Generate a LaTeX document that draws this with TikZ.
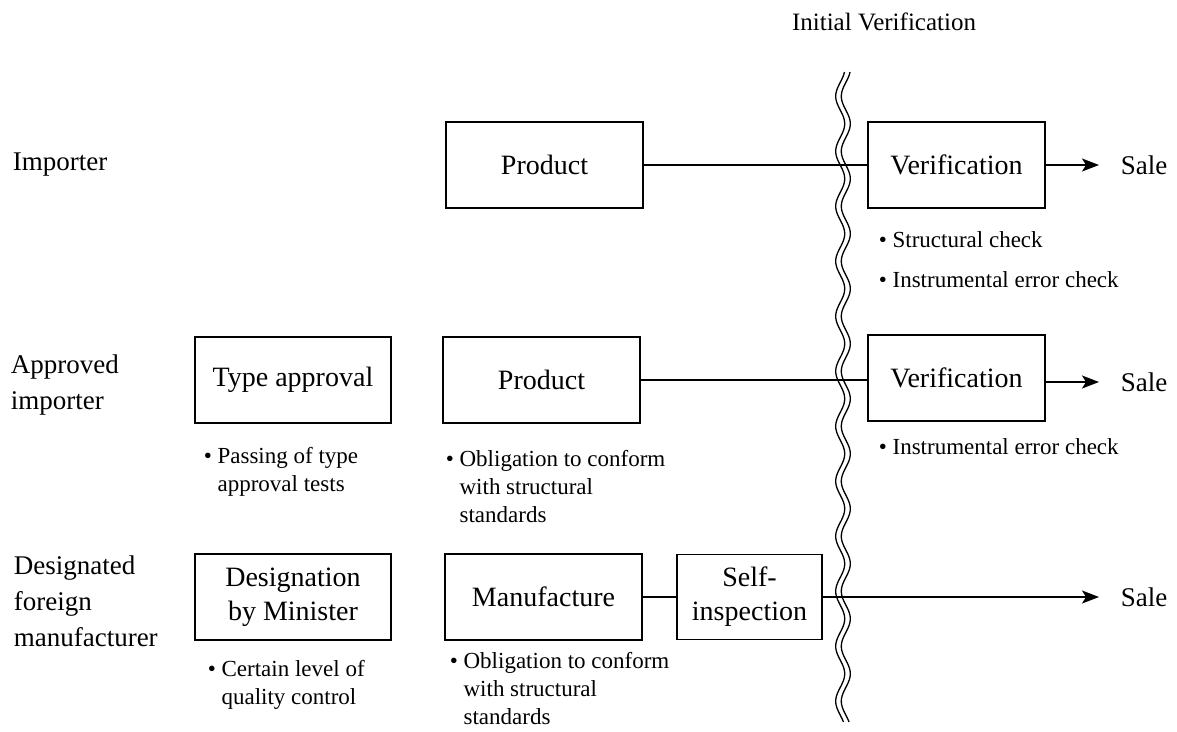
\documentclass[tikz,border=0pt]{standalone}
\usepackage{fontspec}
\setmainfont{LiberationSerif}[Extension=.ttf,UprightFont=*-Regular,BoldFont=*-Bold]
\usetikzlibrary{arrows.meta}
\newcommand{\ind}{\phantom{\textbullet\ }}
\begin{document}
\begin{tikzpicture}[x=1pt,y=-1pt,line width=1.6pt,
    >={Stealth[length=17pt,width=13pt,inset=4pt]},
    box/.style={draw,minimum width=197pt,minimum height=86pt,align=center,font=\fontsize{28}{34}\selectfont},
    role/.style={right,align=left,inner sep=0pt,font=\fontsize{27}{36}\selectfont},
    note/.style={right,align=left,inner sep=0pt,font=\fontsize{23}{28}\selectfont},
    sale/.style={right,inner sep=0pt,font=\fontsize{27}{32}\selectfont}]
  \useasboundingbox (0,0) rectangle (1177,731);
  \node[font=\fontsize{25}{30}\selectfont] (init) at (884,22) {Initial Verification};
  \foreach \d in {-2.8,2.8} {
    \draw[line width=1.3pt] plot[domain=72:722,samples=300,smooth] ({843+\d+4.5*sin(\x/55*360)},\x);
  }
  \node[role] (imp) at (12,165) {Importer};
  \node[role] (appimp) at (10,385) {Approved\\importer};
  \node[role] (desman) at (13,601) {Designated\\foreign\\manufacturer};
  \node[box] (prod1) at (544.5,165) {Product};
  \node[box,minimum width=177pt] (ver1) at (956.5,165) {Verification};
  \node[sale] (sale1) at (1120,165) {Sale};
  \node[note] (n1a) at (878,240) {\textbullet\ Structural check};
  \node[note] (n1b) at (878,280) {\textbullet\ Instrumental error check};
  \draw (prod1) -- (ver1);
  \draw[->,shorten >=21pt] (ver1) -- (sale1);
  \node[box,minimum width=196pt] (type) at (293,380) {Type approval};
  \node[box] (prod2) at (541.5,380) {Product};
  \node[box,minimum width=177pt] (ver2) at (956.5,378) {Verification};
  \node[sale] (sale2) at (1120,382) {Sale};
  \node[note] (n2a) at (203,472) {\textbullet\ Passing of type\\\ind approval tests};
  \node[note] (n2b) at (445,487) {\textbullet\ Obligation to conform\\\ind with structural\\\ind standards};
  \node[note] (n2c) at (878,447) {\textbullet\ Instrumental error check};
  \draw (prod2.east) -- (prod2.east -| ver2.west);
  \draw[->,shorten >=21pt] (ver2.east |- sale2) -- (sale2);
  \node[box,minimum width=196pt] (desig) at (293,597) {Designation\\by Minister};
  \node[box] (manu) at (543.5,597) {Manufacture};
  \node[box,minimum width=145pt,minimum height=85pt] (self) at (749.5,597) {Self-\\inspection};
  \node[sale] (sale3) at (1120,597) {Sale};
  \node[note] (n3a) at (207,685) {\textbullet\ Certain level of\\\ind quality control};
  \node[note] (n3b) at (449,689) {\textbullet\ Obligation to conform\\\ind with structural\\\ind standards};
  \draw (manu) -- (self);
  \draw[->,shorten >=21pt] (self) -- (sale3);
\end{tikzpicture}
\end{document}
